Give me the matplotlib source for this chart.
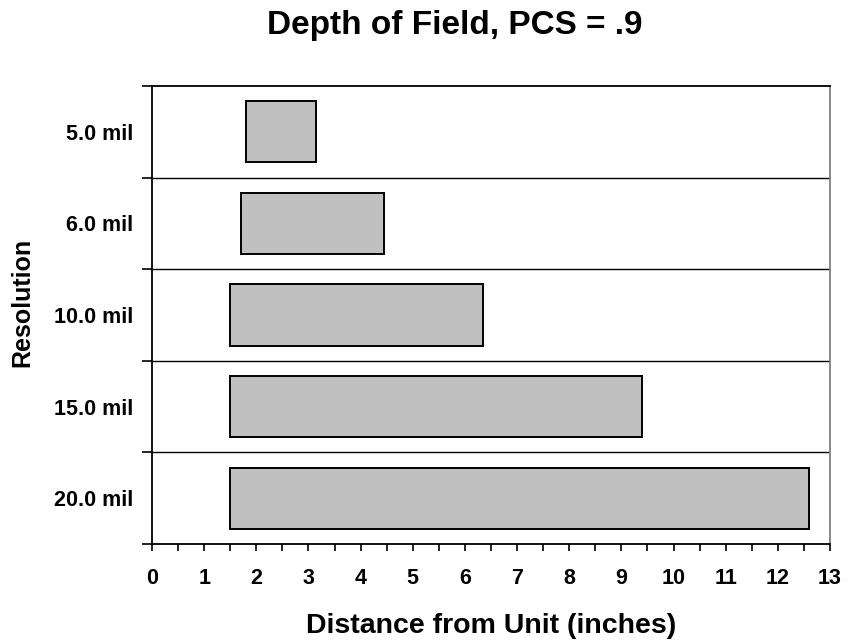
import numpy as np
import matplotlib
matplotlib.use("Agg")
import matplotlib.pyplot as plt

# Depth of field per resolution: near and far working distance (inches)
resolutions = ["5.0 mil", "6.0 mil", "10.0 mil", "15.0 mil", "20.0 mil"]
near_in = [1.8, 1.7, 1.5, 1.5, 1.5]
far_in = [3.15, 4.45, 6.35, 9.4, 12.6]
x_ticks = list(range(0, 14))

plt.rcParams["font.family"] = ["Liberation Sans", "DejaVu Sans"]
plt.rcParams["font.weight"] = "bold"

fig = plt.figure(figsize=(8.48, 6.44), dpi=100)
ax = fig.add_axes([152 / 848, 1 - 544 / 644, 678 / 848, 458 / 644])

ypos = np.arange(len(resolutions))
widths = np.array(far_in) - np.array(near_in)
ax.barh(ypos, widths, left=near_in, height=0.67, color="#C0C0C0",
        edgecolor="black", linewidth=1.4, zorder=3)

ax.set_xlim(0, 13)
ax.set_ylim(len(resolutions) - 0.5, -0.5)

# x axis: whole inches labelled, half inches as minor ticks
ax.set_xticks(x_ticks)
ax.set_xticks(np.arange(0.5, 13, 1.0), minor=True)
ax.set_xticklabels([str(v) for v in x_ticks], fontsize=15.5, fontweight="bold")
ax.tick_params(axis="x", which="both", direction="out", length=5, width=1.2,
               pad=12)

# y axis: ticks on the row boundaries, labels in the middle of each row
bounds = np.arange(-0.5, len(resolutions) + 0.5, 1.0)
ax.set_yticks(bounds)
ax.set_yticklabels([])
ax.set_yticks(ypos, minor=True)
ax.set_yticklabels(resolutions, minor=True, fontsize=15.5, fontweight="bold")
ax.tick_params(axis="y", which="major", direction="out", length=7, width=1.2)
ax.tick_params(axis="y", which="minor", length=0, pad=13.5)

for b in bounds[1:-1]:
    ax.axhline(b, color="black", linewidth=1.0, zorder=1)

for side in ["left", "bottom", "top"]:
    ax.spines[side].set_color("black")
    ax.spines[side].set_linewidth(1.3)
ax.spines["right"].set_color("#808080")
ax.spines["right"].set_linewidth(1.3)

fig.text(455 / 848, 1 - 34 / 644, "Depth of Field, PCS = .9", ha="center",
         va="baseline", fontsize=24, fontweight="bold")
fig.text(491 / 848, 1 - 633 / 644, "Distance from Unit (inches)", ha="center",
         va="baseline", fontsize=20.5, fontweight="bold")
fig.text(22 / 848, 1 - 302 / 644, "Resolution", ha="center", va="center",
         rotation=90, fontsize=18, fontweight="bold")

fig.savefig("out.png", dpi=100)
